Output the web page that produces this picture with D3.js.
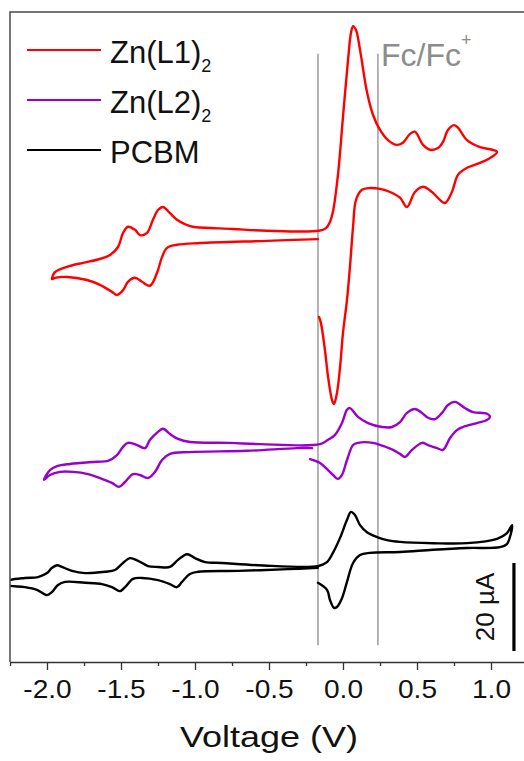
<!DOCTYPE html>
<html>
<head>
<meta charset="utf-8">
<script src="https://cdn.jsdelivr.net/npm/d3@7"></script>
<style>
  html, body { margin: 0; padding: 0; background: #fff; }
  svg { display: block; font-family: Arial, "Liberation Sans", sans-serif; }
</style>
</head>
<body>
<svg id="chart" width="524" height="761"></svg>
<script>
// ---- Data (voltage in V, current in µA, curves vertically offset as in the figure) ----
const seriesNames = ["Zn(L1)", "Zn(L2)", "PCBM"];
const seriesColors = ["#FF0000", "#9A00CC", "#000000"];

const zn1Voltage = [-0.169,-0.514,-0.966,-1.122,-1.189,-1.223,-1.257,-1.304,-1.358,-1.405,-1.453,-1.486,-1.527,-1.561,-1.642,-1.730,-1.865,-1.946,-1.966,
  -1.946,-1.865,-1.757,-1.662,-1.574,-1.520,-1.486,-1.453,-1.405,-1.372,-1.324,-1.284,-1.250,-1.216,-1.169,-1.122,-1.054,-1.014,-0.743,-0.514,-0.162,
  -0.115,-0.088,-0.068,-0.034,0.000,0.034,0.054,0.068,0.088,0.115,0.162,0.203,0.250,0.304,0.365,0.405,0.453,0.486,0.541,0.588,0.642,0.676,0.709,0.750,0.777,0.838,0.926,1.007,1.041,
  0.993,0.926,0.838,0.777,0.736,0.689,0.655,0.601,0.541,0.486,0.432,0.385,0.318,0.250,0.182,0.128,0.088,0.068,0.047,0.027,0.000,-0.020,-0.041,-0.061,-0.074,-0.101,-0.122,-0.149,-0.162];
const zn1Current = [96.1,95.7,95.2,94.8,94.1,92.0,88.4,85.5,86.4,87.3,86.4,84.5,83.4,84.1,85.7,86.8,87.5,87.3,87.0,
  88.6,89.8,90.7,91.4,92.5,94.3,97.5,98.9,98.2,97.0,97.5,100.5,102.7,103.4,102.0,100.5,99.3,98.9,98.4,98.0,98.0,
  98.6,100.0,102.3,110.7,123.9,136.8,143.0,144.5,143.6,139.1,129.5,124.3,120.9,118.6,117.5,118.0,120.0,120.5,117.5,116.4,116.8,118.2,120.9,122.0,121.4,118.6,117.0,116.4,115.9,
  114.5,113.4,112.3,110.7,106.8,104.3,105.0,106.8,108.0,106.8,103.4,105.5,106.8,107.5,107.7,107.3,105.0,98.9,89.8,82.3,74.8,67.0,61.1,58.6,59.5,64.8,70.9,77.0,78.4];

const zn2Voltage = [-0.209,-0.311,-0.649,-1.034,-1.169,-1.223,-1.270,-1.318,-1.372,-1.419,-1.473,-1.514,-1.561,-1.642,-1.723,-1.824,-1.912,-1.980,-2.020,
  -1.980,-1.932,-1.845,-1.662,-1.588,-1.527,-1.486,-1.453,-1.392,-1.338,-1.304,-1.250,-1.216,-1.169,-1.115,-1.034,-0.764,-0.561,-0.155,
  -0.101,-0.054,-0.007,0.027,0.047,0.101,0.169,0.264,0.331,0.385,0.432,0.486,0.534,0.574,0.622,0.669,0.709,0.757,0.824,0.878,0.973,0.993,
  0.973,0.905,0.811,0.770,0.723,0.676,0.635,0.574,0.534,0.466,0.419,0.385,0.338,0.270,0.203,0.101,0.068,0.027,-0.007,-0.034,-0.068,-0.101,-0.155,-0.223];
const zn2Current = [48.6,48.6,48.0,47.7,47.3,45.9,43.2,41.8,42.5,42.7,40.9,39.8,40.7,41.8,42.7,43.2,43.2,42.5,41.4,
  43.6,44.5,45.0,45.5,45.7,47.0,48.9,49.8,49.3,48.6,50.5,52.3,53.0,51.8,50.7,50.0,49.8,49.5,49.5,
  50.5,51.6,54.3,57.3,57.7,55.7,54.3,53.4,53.4,54.5,56.6,57.5,56.6,55.5,55.2,56.6,58.4,59.1,57.7,56.8,56.4,55.7,
  55.0,54.3,53.4,52.7,50.9,48.2,48.6,49.3,49.8,48.2,46.6,47.3,48.2,49.1,49.8,49.8,49.3,45.9,42.5,41.6,42.5,43.6,45.2,46.1];

const pcbmVoltage = [-0.169,-0.372,-0.709,-0.980,-1.034,-1.088,-1.122,-1.169,-1.250,-1.358,-1.419,-1.473,-1.507,-1.561,-1.628,-1.743,-1.878,-1.926,-1.966,-2.000,-2.068,-2.149,-2.250,-2.297,
  -2.250,-2.149,-2.061,-2.000,-1.966,-1.932,-1.899,-1.831,-1.743,-1.608,-1.541,-1.493,-1.439,-1.385,-1.318,-1.250,-1.169,-1.115,-1.054,-1.000,-0.932,-0.818,-0.574,-0.169,
  -0.108,-0.068,-0.020,0.027,0.054,0.081,0.115,0.162,0.230,0.297,0.385,0.608,0.838,1.041,1.108,1.142,
  1.128,1.108,1.061,0.838,0.608,0.385,0.182,0.115,0.068,0.027,-0.007,-0.041,-0.061,-0.088,-0.108,-0.169];
const pcbmCurrent = [21.4,21.1,20.7,20.5,20.0,18.2,17.0,17.7,18.6,19.1,18.9,17.0,16.1,17.0,17.7,18.0,18.2,17.5,15.9,15.2,16.4,17.0,17.3,17.7,
  18.6,19.1,19.3,20.2,21.4,22.0,21.6,20.7,20.2,20.5,20.9,22.3,23.6,23.0,21.8,21.6,21.6,23.2,24.5,23.6,22.7,22.5,22.0,21.8,
  22.7,24.8,28.2,32.3,34.1,33.4,31.1,29.5,28.4,27.7,27.3,27.0,27.0,28.0,29.3,31.1,
  28.4,26.8,26.1,25.9,25.5,25.0,24.8,24.3,22.5,18.2,14.5,12.5,12.3,14.1,16.4,18.0];

const majorTicks = [-2.0, -1.5, -1.0, -0.5, 0.0, 0.5, 1.0];
const minorTicks = [-2.25, -1.75, -1.25, -0.75, -0.25, 0.25, 0.75, 1.25];
const refLines = [-0.169, 0.236];       // vertical guide lines (V)
const scaleBarCurrent = [2.5, 22.5];     // 20 µA scale bar

(function () {
// ---- Layout ----
const svg = d3.select("#chart");
const pL = 10, pT = 12, pR = 528, pB = 662;
const x = d3.scaleLinear().domain([-2.25, 1.25]).range([pL, pR]);
const y = d3.scaleLinear().domain([0, 147.7]).range([pB, pT]);

svg.append("defs").append("clipPath").attr("id", "plotclip")
  .append("rect").attr("x", pL).attr("y", pT).attr("width", pR - pL).attr("height", pB - pT);

// guide lines
svg.append("g").selectAll("line").data(refLines).join("line")
  .attr("x1", d => x(d)).attr("x2", d => x(d))
  .attr("y1", y(138.2)).attr("y2", y(3.8))
  .attr("stroke", "#8c8c8c").attr("stroke-width", 1.3);

// curves
const series = [
  {v: zn1Voltage, c: zn1Current},
  {v: zn2Voltage, c: zn2Current},
  {v: pcbmVoltage, c: pcbmCurrent}
];
const line = d3.line().x(d => x(d[0])).y(d => y(d[1])).curve(d3.curveCatmullRom.alpha(0.5));
const gCurves = svg.append("g").attr("clip-path", "url(#plotclip)");
series.forEach((s, i) => {
  const pts = s.v.map((v, j) => [v, s.c[j]]);
  gCurves.append("path").datum(pts).attr("d", line)
    .attr("fill", "none").attr("stroke", seriesColors[i]).attr("stroke-width", 2.4)
    .attr("stroke-linejoin", "round").attr("stroke-linecap", "round");
});

// frame
svg.append("path")
  .attr("d", `M${pL},${pB}V${pT}H${pR}V${pB}`)
  .attr("fill", "none").attr("stroke", "#4a4a4a").attr("stroke-width", 1.5);

// x axis
const ax = svg.append("g").attr("transform", `translate(0,${pB})`)
  .call(d3.axisBottom(x).tickValues(majorTicks).tickSize(8).tickSizeOuter(0).tickPadding(10)
    .tickFormat(d => d.toFixed(1)));
ax.select(".domain").attr("stroke", "#333").attr("stroke-width", 1.5);
ax.selectAll(".tick line").attr("stroke", "#333").attr("stroke-width", 1.3);
ax.selectAll(".tick text").attr("font-size", 26).attr("fill", "#111")
  .attr("font-family", "Arial, 'Liberation Sans', sans-serif")
  .attr("transform", "scale(1.08,1)");
svg.append("g").attr("transform", `translate(0,${pB})`)
  .call(d3.axisBottom(x).tickValues(minorTicks).tickSize(4).tickSizeOuter(0).tickFormat(""))
  .call(g => g.select(".domain").remove())
  .selectAll(".tick line").attr("stroke", "#333").attr("stroke-width", 1.3);

svg.append("text").attr("x", 269).attr("y", 747).attr("text-anchor", "middle")
  .attr("font-size", 30).attr("fill", "#111").attr("textLength", 178).attr("lengthAdjust", "spacingAndGlyphs")
  .text("Voltage (V)");

// legend
const legendY = [50, 100, 150];
seriesNames.forEach((name, i) => {
  svg.append("line").attr("x1", 27).attr("x2", 101).attr("y1", legendY[i]).attr("y2", legendY[i])
    .attr("stroke", seriesColors[i]).attr("stroke-width", 2);
  const t = svg.append("text").attr("x", 110).attr("y", legendY[i] + 13).attr("font-size", 31).attr("fill", "#111");
  t.append("tspan").text(name);
  if (i < 2) t.append("tspan").attr("font-size", 18).attr("dy", 9).text("2");
});

// Fc/Fc+ label
const fc = svg.append("text").attr("x", 381).attr("y", 66).attr("font-size", 32).attr("fill", "#8c8c8c");
fc.append("tspan").text("Fc/Fc");
fc.append("tspan").attr("font-size", 18).attr("dy", -20).text("+");

// scale bar
svg.append("line").attr("x1", x(1.155)).attr("x2", x(1.155))
  .attr("y1", y(scaleBarCurrent[0])).attr("y2", y(scaleBarCurrent[1]))
  .attr("stroke", "#000").attr("stroke-width", 3.2);
svg.append("text").attr("transform", `translate(494,${(y(scaleBarCurrent[0]) + y(scaleBarCurrent[1])) / 2}) rotate(-90)`)
  .attr("text-anchor", "middle").attr("font-size", 26).attr("fill", "#111").text("20 µA");
})();
</script>
</body>
</html>
